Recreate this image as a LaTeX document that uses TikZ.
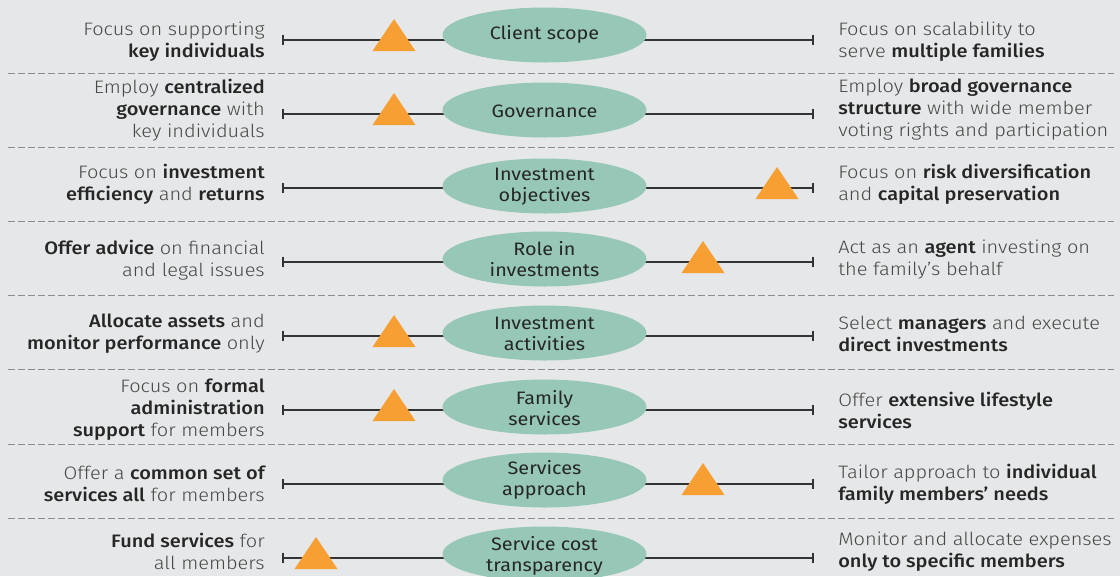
\documentclass[tikz,border=0pt]{standalone}
\usepackage{fontspec}
\setmainfont{Fira Sans}[UprightFont=* Light, BoldFont=* Medium, FakeStretch=1.11]
\newfontfamily\ovalfont{Fira Sans}[FakeStretch=1.1]
\usetikzlibrary{shapes.geometric}
\definecolor{bgc}{HTML}{E6E7E8}
\definecolor{ovalc}{HTML}{97C8B7}
\definecolor{triorange}{HTML}{F79F32}
\definecolor{txtlight}{HTML}{474747}
\definecolor{txtdark}{HTML}{262626}
\definecolor{linec}{HTML}{333333}
\definecolor{dashc}{HTML}{8C8C8C}
\newcommand{\kw}[1]{{\bfseries\color{txtdark}#1}}
\tikzset{
  lefttxt/.style={anchor=east, align=right, inner sep=0pt, text=txtlight, font=\fontsize{13.5}{16.5}\selectfont},
  righttxt/.style={anchor=west, align=left, inner sep=0pt, text=txtlight, font=\fontsize{13.5}{16.5}\selectfont},
  oval/.style={ellipse, fill=ovalc, minimum width=153pt, minimum height=41.25pt, inner sep=0pt},
  ovaltxt/.style={align=center, inner sep=0pt, text=txtdark, font=\ovalfont\fontsize{13.5}{15.75}\selectfont},
  tickmark/.style={draw=linec, line width=1.5pt},
  scaleline/.style={draw=linec, line width=1.1pt},
  sepline/.style={draw=dashc, line width=0.75pt, dash pattern=on 5.25pt off 2.25pt},
  marker/.pic={\fill[triorange] (-21.5,11) -- (0,-21) -- (21.5,11) -- cycle;}
}
\begin{document}
\begin{tikzpicture}[x=0.75pt, y=-0.75pt]
\fill[bgc] (0,0) rectangle (1120,576);
\useasboundingbox (0,0) rectangle (1120,576);
\clip (0,0) rectangle (1120,576);
% separators
\foreach \y/\n in {73.5/1,147.5/2,221.5/3,295.5/4,369.5/5,444/6,518/7}{
  \coordinate (sl\n) at (8,\y);
  \coordinate (sr\n) at (1114,\y);
  \draw[sepline] (sl\n) -- (sr\n);
}
% scales
\foreach \y/\n in {40/1,114/2,188/3,262/4,336/5,410/6,484/7,558/8}{
  \coordinate (a\n) at (283,\y);
  \coordinate (b\n) at (813,\y);
  \draw[scaleline] (a\n) -- (b\n);
  \draw[tickmark] ([yshift=4]a\n) -- ([yshift=-4]a\n);
  \draw[tickmark] ([yshift=4]b\n) -- ([yshift=-4]b\n);
}
% ovals
\node[oval] (e1) at (544.5,35) {};
\node[oval] (e2) at (544.5,110) {};
\node[oval] (e3) at (544.5,186) {};
\node[oval] (e4) at (544.5,259) {};
\node[oval] (e5) at (544.5,333) {};
\node[oval] (e6) at (544.5,407) {};
\node[oval] (e7) at (544.5,480) {};
\node[oval] (e8) at (544.5,554) {};
\node[ovaltxt] (l1) at (544.5,34) {Client scope};
\node[ovaltxt] (l2) at (544.5,111) {Governance};
\node[ovaltxt] (l3) at (544.5,187) {Investment\\objectives};
\node[ovaltxt] (l4) at (544.5,259.5) {Role in\\investments};
\node[ovaltxt] (l5) at (544.5,334) {Investment\\activities};
\node[ovaltxt] (l6) at (544.5,408) {Family\\services};
\node[ovaltxt] (l7) at (544.5,480) {Services\\approach};
\node[ovaltxt] (l8) at (544.5,555.5) {Service cost\\transparency};
% markers
\pic at (394,40) {marker};
\pic at (394,114) {marker};
\pic at (777,188) {marker};
\pic at (703,262) {marker};
\pic at (394,336) {marker};
\pic at (394,410) {marker};
\pic at (703,484) {marker};
\pic at (316,558) {marker};
% left texts
\node[lefttxt] (p1) at (265,42) {Focus on supporting\\\kw{key individuals}};
\node[lefttxt] (p2) at (265,110) {Employ \kw{centralized}\\\kw{governance} with\\key individuals};
\node[lefttxt] (p3) at (265,184.5) {Focus on \kw{investment}\\\kw{efficiency} and \kw{returns}};
\node[lefttxt] (p4) at (265,260) {\kw{Offer advice} on financial\\and legal issues};
\node[lefttxt] (p5) at (265,334) {\kw{Allocate assets} and\\\kw{monitor performance} only};
\node[lefttxt] (p6) at (265,409.5) {Focus on \kw{formal}\\\kw{administration}\\\kw{support} for members};
\node[lefttxt] (p7) at (265,484) {Offer a \kw{common set of}\\\kw{services all} for members};
\node[lefttxt] (p8) at (265,551.5) {\kw{Fund services} for\\all members};
% right texts
\node[righttxt] (q1) at (838,42) {Focus on scalability to\\serve \kw{multiple families}};
\node[righttxt] (q2) at (838,110) {Employ \kw{broad governance}\\\kw{structure} with wide member\\voting rights and participation};
\node[righttxt] (q3) at (838,184.5) {Focus on \kw{risk diversification}\\and \kw{capital preservation}};
\node[righttxt] (q4) at (838,260) {Act as an \kw{agent} investing on\\the family’s behalf};
\node[righttxt] (q5) at (838,334) {Select \kw{managers} and execute\\\kw{direct investments}};
\node[righttxt] (q6) at (838,410) {Offer \kw{extensive lifestyle}\\\kw{services}};
\node[righttxt] (q7) at (838,484) {Tailor approach to \kw{individual}\\\kw{family members’ needs}};
\node[righttxt] (q8) at (838,551.5) {Monitor and allocate expenses\\\kw{only to specific members}};
\end{tikzpicture}
\end{document}
